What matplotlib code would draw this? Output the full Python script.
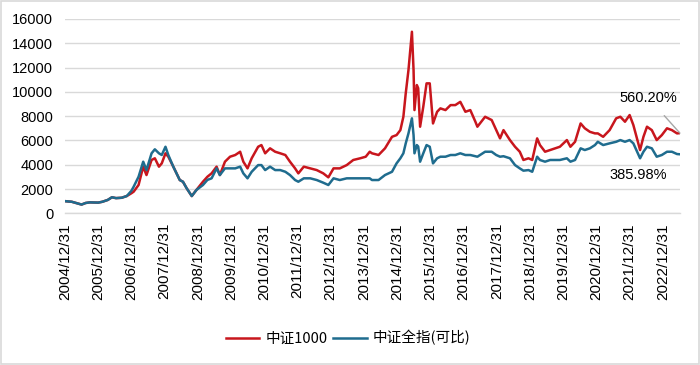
import matplotlib
matplotlib.use("Agg")
import matplotlib.pyplot as plt
import pandas as pd

plt.rcParams['font.family'] = ['Noto Sans CJK SC', 'DejaVu Sans']

dates = [
    "2004-12-31", "2005-03-15", "2005-05-01", "2005-07-01", "2005-08-15", "2005-10-01",
    "2005-12-31", "2006-02-15", "2006-04-15", "2006-05-31", "2006-07-15", "2006-09-15",
    "2006-11-10", "2006-12-31", "2007-01-25", "2007-03-20", "2007-05-10", "2007-06-15",
    "2007-08-10", "2007-09-15", "2007-10-30", "2007-11-30", "2008-01-10", "2008-02-10",
    "2008-04-05", "2008-05-10", "2008-06-15", "2008-07-20", "2008-08-30", "2008-10-25",
    "2008-12-15", "2009-02-25", "2009-04-15", "2009-05-31", "2009-07-25", "2009-08-30",
    "2009-10-25", "2009-12-20", "2010-02-15", "2010-04-10", "2010-05-15", "2010-06-30",
    "2010-08-15", "2010-10-25", "2010-11-30", "2011-01-10", "2011-03-05", "2011-04-30",
    "2011-06-25", "2011-08-20", "2011-10-10", "2011-12-05", "2012-01-10", "2012-03-10",
    "2012-05-20", "2012-07-30", "2012-10-10", "2012-12-05", "2013-01-31", "2013-04-10",
    "2013-06-25", "2013-09-05", "2013-11-20", "2014-01-20", "2014-03-05", "2014-03-30",
    "2014-06-10", "2014-08-20", "2014-11-05", "2014-12-25", "2015-02-05", "2015-03-10",
    "2015-04-05", "2015-05-05", "2015-06-12", "2015-06-30", "2015-07-10", "2015-08-05",
    "2015-08-20", "2015-09-10", "2015-10-15", "2015-11-20", "2015-12-25", "2016-01-30",
    "2016-03-15", "2016-04-20", "2016-06-15", "2016-08-10", "2016-10-01", "2016-11-25",
    "2017-01-20", "2017-03-15", "2017-05-10", "2017-06-01", "2017-08-25", "2017-11-05",
    "2017-12-25", "2018-02-05", "2018-03-15", "2018-05-25", "2018-07-20", "2018-09-10",
    "2018-10-20", "2018-12-15", "2019-01-25", "2019-03-20", "2019-04-20", "2019-06-15",
    "2019-08-10", "2019-10-05", "2019-11-25", "2020-02-10", "2020-03-20", "2020-05-10",
    "2020-07-10", "2020-08-25", "2020-10-20", "2020-12-15", "2021-01-15", "2021-03-15",
    "2021-05-25", "2021-08-05", "2021-09-20", "2021-11-10", "2021-12-31", "2022-02-10",
    "2022-04-25", "2022-06-01", "2022-07-10", "2022-09-01", "2022-10-25", "2022-12-20",
    "2023-02-15", "2023-04-10", "2023-06-05", "2023-07-07",
]

csi1000 = [
    1000, 950, 850, 720, 850, 900,
    880, 950, 1100, 1320, 1250, 1280,
    1420, 1650, 1780, 2330, 3840, 3150,
    4390, 4530, 3840, 4110, 4940, 4660,
    3840, 3290, 2740, 2600, 2060, 1420,
    1920, 2600, 3010, 3290, 3840, 3150,
    4250, 4660, 4800, 5070, 4250, 3700,
    4530, 5480, 5620, 4940, 5350, 5070,
    4940, 4800, 4250, 3700, 3290, 3840,
    3700, 3560, 3290, 2960, 3700, 3700,
    3970, 4390, 4530, 4660, 5070, 4940,
    4800, 5350, 6300, 6440, 6850, 7950,
    9880, 11790, 14950, 11790, 8500, 10560,
    10300, 7130, 8780, 10700, 10700, 7400,
    8360, 8640, 8500, 8910, 8910, 9180,
    8360, 8500, 7540, 7130, 7950, 7680,
    6850, 6170, 6850, 6030, 5480, 5070,
    4390, 4530, 4390, 6170, 5620, 5070,
    5210, 5350, 5480, 6030, 5480, 5890,
    7400, 7000, 6710, 6580, 6580, 6300,
    6850, 7820, 7950, 7540, 8090, 7270,
    5210, 6300, 7130, 6850, 6030, 6440,
    7000, 6850, 6580, 6602,
]

csi_all = [
    1000, 950, 850, 720, 850, 900,
    880, 950, 1100, 1320, 1250, 1280,
    1420, 1850, 2190, 3010, 4250, 3560,
    4940, 5270, 4940, 4800, 5480, 4800,
    3840, 3290, 2740, 2600, 2060, 1420,
    1920, 2330, 2750, 2880, 3700, 3150,
    3700, 3700, 3700, 3840, 3290, 2880,
    3420, 3970, 3970, 3560, 3840, 3560,
    3560, 3420, 3150, 2740, 2600, 2880,
    2880, 2740, 2520, 2330, 2880, 2740,
    2880, 2880, 2880, 2880, 2880, 2740,
    2740, 3150, 3420, 4110, 4530, 4940,
    5760, 6580, 7820, 6440, 4940, 5620,
    5500, 4250, 4940, 5620, 5480, 4110,
    4530, 4660, 4660, 4800, 4800, 4940,
    4800, 4800, 4700, 4660, 5070, 5070,
    4800, 4660, 4700, 4530, 3970, 3700,
    3510, 3560, 3420, 4660, 4390, 4250,
    4390, 4390, 4390, 4530, 4250, 4390,
    5350, 5210, 5350, 5620, 5890, 5620,
    5760, 5890, 6030, 5890, 6030, 5760,
    4530, 5070, 5480, 5350, 4660, 4800,
    5070, 5070, 4880, 4860,
]

tick_labels = [f"{y}/12/31" for y in range(2004, 2023)]
yticks = [0, 2000, 4000, 6000, 8000, 10000, 12000, 14000, 16000]
series_names = ["中证1000", "中证全指(可比)"]
end_labels = ["560.20%", "385.98%"]

x = pd.to_datetime(dates)
tick_pos = pd.to_datetime([s.replace("/", "-") for s in tick_labels])
num_font = ["Liberation Sans", "DejaVu Sans"]

fig = plt.figure(figsize=(7.0, 3.65), dpi=100)
ax = fig.add_axes([65/700, 1-213.3/365, 615/700, (213.3-19)/365])

red = "#c8161d"
blue = "#1f6c8e"
ax.plot(x, csi1000, color=red, lw=1.8, label=series_names[0], solid_joinstyle="round")
ax.plot(x, csi_all, color=blue, lw=1.8, label=series_names[1], solid_joinstyle="round")

ax.set_ylim(0, 16000)
ax.set_xlim(pd.Timestamp("2004-12-31"), pd.Timestamp("2023-07-08"))
ax.set_yticks(yticks)
ax.set_yticklabels([str(v) for v in yticks], fontsize=10.5, family=num_font)
ax.set_xticks(tick_pos)
ax.set_xticklabels(tick_labels, rotation=90, fontsize=11, family=num_font)
ax.tick_params(axis="both", length=0)
ax.tick_params(axis="y", pad=8.5)
ax.tick_params(axis="x", pad=7)
ax.grid(axis="y", color="#d9d9d9", lw=1.0)
ax.set_axisbelow(True)
for s in ["top", "right", "left"]:
    ax.spines[s].set_visible(False)
ax.spines["bottom"].set_color("#d9d9d9")
ax.spines["bottom"].set_linewidth(1.0)

ax.annotate(end_labels[0], xy=(x[-1], csi1000[-1]),
            xytext=(pd.Timestamp("2022-07-22"), 9530), ha="center", va="center",
            fontsize=10.5, family=num_font,
            arrowprops=dict(arrowstyle="-", color="#a6a6a6", lw=1.0,
                            shrinkA=8, shrinkB=0))
ax.text(pd.Timestamp("2022-04-05"), 3150, end_labels[1], ha="center", va="center",
        fontsize=10.5, family=num_font)

fig.legend(loc="center", bbox_to_anchor=(348/700, 1-338/365), ncol=2,
           frameon=False, fontsize=10.5, handlelength=2.3, columnspacing=0.4,
           handletextpad=0.4)

fig.patches.append(plt.Rectangle((0.002, 0.004), 0.996, 0.992, transform=fig.transFigure,
                                 fill=False, edgecolor="#d9d9d9", lw=1.2))

fig.savefig("out.png", dpi=100)
